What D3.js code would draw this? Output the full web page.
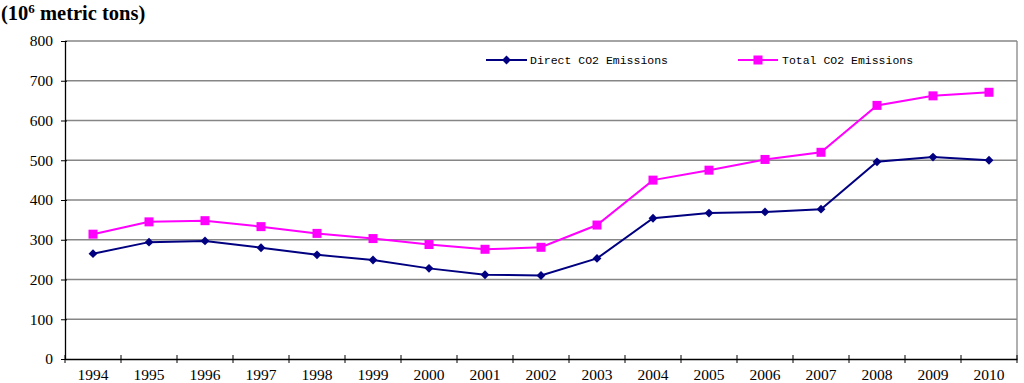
<!DOCTYPE html>
<html><head><meta charset="utf-8">
<script src="https://cdn.jsdelivr.net/npm/d3@7"></script>
<style>body{margin:0;background:#fff}svg{display:block}
.serif{font-family:"Liberation Serif","Times New Roman",Times,"DejaVu Serif",serif}
.mono{font-family:"Liberation Mono","DejaVu Sans Mono",monospace}
</style>
</head><body>
<svg id="c" width="1024" height="383"></svg>
<script>
const years = ["1994","1995","1996","1997","1998","1999","2000","2001","2002","2003","2004","2005","2006","2007","2008","2009","2010"];
const directCO2 = [265,294,297,280,262,249,228,212,210,253,354,367,370,377,496,508,500];
const totalCO2  = [314,345,348,333,316,303,288,276,281,337,450,475,502,520,638,662,671];
const yTicks = [0,100,200,300,400,500,600,700,800];

const svg = d3.select("#c");
const L = 65, R = 1017, T = 41, B = 359;
const x = d3.scaleBand().domain(years).range([L, R]);
const y = d3.scaleLinear().domain([0, 800]).range([B, T]);

svg.append("g").selectAll("line").data(yTicks.filter(d => d > 0)).join("line")
  .attr("x1", L).attr("x2", R).attr("y1", d => y(d)).attr("y2", d => y(d))
  .attr("stroke", "#868686").attr("stroke-width", 1.3);
svg.append("line").attr("x1", R).attr("x2", R).attr("y1", T).attr("y2", B)
  .attr("stroke", "#868686").attr("stroke-width", 1.3);

const ya = svg.append("g").attr("transform", `translate(${L},0)`)
  .call(d3.axisLeft(y).tickValues(yTicks).tickSize(4).tickPadding(8).tickSizeOuter(0));
ya.attr("font-family", null);
ya.select(".domain").attr("stroke", "#000").attr("stroke-width", 1.3);
ya.selectAll(".tick line").attr("stroke", "#000").attr("x2", 2).attr("x1", -4);
ya.selectAll("text").attr("class", "serif").attr("font-size", 15.5).attr("fill", "#000");

const xa = svg.append("g").attr("transform", `translate(0,${B})`)
  .call(d3.axisBottom(x).tickSize(0).tickPadding(10).tickSizeOuter(0));
xa.attr("font-family", null);
xa.select(".domain").attr("stroke", "#000").attr("stroke-width", 1.3);
xa.selectAll("text").attr("class", "serif").attr("font-size", 15.5).attr("fill", "#000");
const bounds = years.map(d => x(d)).concat([R]);
svg.append("g").selectAll("line").data(bounds).join("line")
  .attr("x1", d => d).attr("x2", d => d).attr("y1", B - 4).attr("y2", B + 4)
  .attr("stroke", "#000").attr("stroke-width", 1);

const cx = d => x(d) + x.bandwidth() / 2;
const line = d3.line().x((d, i) => cx(years[i])).y(d => y(d));

const blue = "#000080", pink = "#FF00FF";
svg.append("path").datum(directCO2).attr("d", line).attr("fill", "none").attr("stroke", blue).attr("stroke-width", 2);
svg.append("path").datum(totalCO2).attr("d", line).attr("fill", "none").attr("stroke", pink).attr("stroke-width", 2);

const diamond = d3.symbol().type(d3.symbolDiamond2).size(50);
svg.append("g").selectAll("path").data(directCO2).join("path")
  .attr("d", diamond).attr("transform", (d, i) => `translate(${cx(years[i])},${y(d)})`).attr("fill", blue);
svg.append("g").selectAll("rect").data(totalCO2).join("rect")
  .attr("x", (d, i) => cx(years[i]) - 4.5).attr("y", d => y(d) - 4.5)
  .attr("width", 9).attr("height", 9).attr("fill", pink);

const lg = svg.append("g");
lg.append("line").attr("x1", 486).attr("x2", 527).attr("y1", 60).attr("y2", 60).attr("stroke", blue).attr("stroke-width", 2);
lg.append("path").attr("d", diamond).attr("transform", "translate(506.5,60)").attr("fill", blue);
lg.append("text").attr("x", 530).attr("y", 64).text("Direct CO2 Emissions")
  .attr("class", "mono").attr("font-size", 11.5).attr("fill", "#000");
lg.append("line").attr("x1", 738).attr("x2", 778).attr("y1", 60).attr("y2", 60).attr("stroke", pink).attr("stroke-width", 2);
lg.append("rect").attr("x", 753.5).attr("y", 55.5).attr("width", 9).attr("height", 9).attr("fill", pink);
lg.append("text").attr("x", 782).attr("y", 64).text("Total CO2 Emissions")
  .attr("class", "mono").attr("font-size", 11.5).attr("fill", "#000");

const t = svg.append("text").attr("x", 1).attr("y", 20).attr("class", "serif")
  .attr("font-weight", "bold").attr("font-size", 20.5).attr("fill", "#000");
t.append("tspan").text("(10");
t.append("tspan").text("6").attr("font-size", 13).attr("dy", -7);
t.append("tspan").text(" metric tons)").attr("dy", 7);
</script>
</body></html>
